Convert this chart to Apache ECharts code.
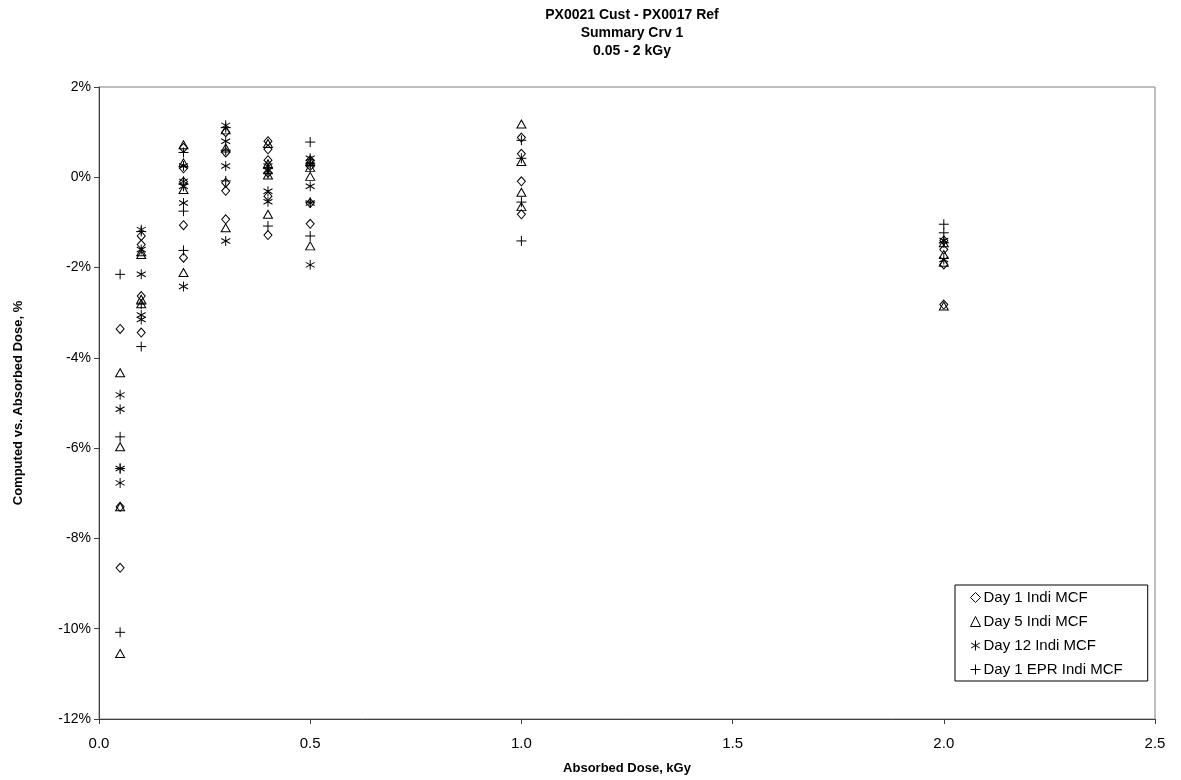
<!DOCTYPE html>
<html>
<head>
<meta charset="utf-8">
<script src="https://cdn.jsdelivr.net/npm/echarts@6/dist/echarts.min.js"></script>
<style>
html,body{margin:0;padding:0;background:#fff;}
#chart{width:1181px;height:780px;}
</style>
</head>
<body>
<div id="chart"></div>
<script>
// ---- data (dose kGy, deviation %) ----
const seriesNames = ['Day 1 Indi MCF', 'Day 5 Indi MCF', 'Day 12 Indi MCF', 'Day 1 EPR Indi MCF'];
const xTicks = [0, 0.5, 1.0, 1.5, 2.0, 2.5];
const yTicks = [-12, -10, -8, -6, -4, -2, 0, 2];

const day1Indi = [
  [0.05,-3.36],[0.05,-7.30],[0.05,-8.65],
  [0.1,-1.30],[0.1,-1.49],[0.1,-2.63],[0.1,-3.44],
  [0.2,0.65],[0.2,0.20],[0.2,-0.10],[0.2,-1.06],[0.2,-1.78],
  [0.3,1.00],[0.3,0.55],[0.3,-0.12],[0.3,-0.30],[0.3,-0.93],
  [0.4,0.80],[0.4,0.62],[0.4,0.38],[0.4,0.10],[0.4,-0.42],[0.4,-1.28],
  [0.5,0.38],[0.5,0.25],[0.5,-0.57],[0.5,-1.03],
  [1.0,0.88],[1.0,0.52],[1.0,-0.09],[1.0,-0.82],
  [2.0,-1.40],[2.0,-1.60],[2.0,-1.93],[2.0,-2.82]
];
const day5Indi = [
  [0.05,-4.33],[0.05,-5.97],[0.05,-7.30],[0.05,-10.55],
  [0.1,-1.65],[0.1,-1.71],[0.1,-2.70],[0.1,-2.80],
  [0.2,0.72],[0.2,0.32],[0.2,-0.27],[0.2,-2.11],
  [0.3,1.05],[0.3,0.65],[0.3,-1.12],
  [0.4,0.75],[0.4,0.30],[0.4,0.05],[0.4,-0.82],
  [0.5,0.35],[0.5,0.22],[0.5,0.02],[0.5,-1.52],
  [1.0,1.18],[1.0,0.35],[1.0,-0.33],[1.0,-0.65],
  [2.0,-1.45],[2.0,-1.71],[2.0,-1.88],[2.0,-2.85]
];
const day12Indi = [
  [0.05,-4.82],[0.05,-5.14],[0.05,-6.45],[0.05,-6.77],
  [0.1,-1.16],[0.1,-1.60],[0.1,-2.15],[0.1,-3.05],[0.1,-3.15],
  [0.2,0.25],[0.2,-0.09],[0.2,-0.20],[0.2,-0.57],[0.2,-2.42],
  [0.3,1.15],[0.3,0.80],[0.3,0.25],[0.3,-1.41],
  [0.4,0.25],[0.4,0.15],[0.4,-0.31],[0.4,-0.54],
  [0.5,0.42],[0.5,0.28],[0.5,-0.20],[0.5,-0.57],[0.5,-1.94],
  [2.0,-1.40],[2.0,-1.82]
];
const day1EprIndi = [
  [0.05,-2.15],[0.05,-5.75],[0.05,-6.45],[0.05,-10.08],
  [0.1,-1.20],[0.1,-2.81],[0.1,-3.75],
  [0.2,0.55],[0.2,-0.15],[0.2,-0.75],[0.2,-1.62],
  [0.3,1.10],[0.3,0.60],[0.3,-0.08],
  [0.4,0.20],[0.4,0.08],[0.4,-1.08],
  [0.5,0.78],[0.5,0.30],[0.5,-0.55],[0.5,-1.30],
  [1.0,0.82],[1.0,0.42],[1.0,-0.55],[1.0,-1.41],
  [2.0,-1.04],[2.0,-1.23],[2.0,-1.45]
];

// ---- chart ----
const FONT = 'Liberation Sans, Arial, sans-serif';
const plusPath = 'path://M5,0L5,10M0,5L10,5';
const starPath = 'path://M5,0L5,10M0.67,2.5L9.33,7.5M0.67,7.5L9.33,2.5';
const symbols = ['diamond', 'triangle', starPath, plusPath];
const sizes = [[8,9], [9,8], [9,10], [10,10]];
const datasets = [day1Indi, day5Indi, day12Indi, day1EprIndi];

const chart = echarts.init(document.getElementById('chart'), null, {renderer: 'canvas'});
const option = {
  animation: false,
  backgroundColor: '#ffffff',
  title: {
    text: 'PX0021 Cust - PX0017 Ref\nSummary Crv 1\n0.05 - 2 kGy',
    left: 627,
    top: 1,
    textAlign: 'center',
    textStyle: {fontFamily: FONT, fontSize: 14, fontWeight: 'bold', color: '#000', lineHeight: 18}
  },
  grid: {left: 99, right: 26, top: 87, bottom: 60, show: true, borderColor: '#808080', borderWidth: 1, backgroundColor: 'transparent'},
  legend: {
    orient: 'vertical',
    left: 955,
    top: 585,
    itemWidth: 10,
    itemHeight: 10,
    itemGap: 9,
    padding: [5, 25, 4, 13],
    borderColor: '#000',
    borderWidth: 1,
    backgroundColor: '#fff',
    itemStyle: {color: 'none', borderColor: '#000', borderWidth: 1},
    textStyle: {fontFamily: FONT, fontSize: 15, color: '#000', padding: [0,0,0,-2]},
    data: seriesNames
  },
  xAxis: {
    type: 'value', min: 0, max: 2.5, interval: 0.5,
    name: 'Absorbed Dose, kGy', nameLocation: 'middle', nameGap: 43,
    nameTextStyle: {fontFamily: FONT, fontSize: 13, fontWeight: 'bold', color: '#000'},
    axisLine: {show: true, onZero: false, lineStyle: {color: '#404040', width: 1}},
    axisTick: {show: true, inside: false, length: 5, lineStyle: {color: '#404040'}},
    axisLabel: {fontFamily: FONT, fontSize: 15, color: '#000', margin: 17, formatter: v => v.toFixed(1)},
    splitLine: {show: false}
  },
  yAxis: {
    type: 'value', min: -12, max: 2, interval: 2,
    name: 'Computed vs. Absorbed Dose, %', nameLocation: 'middle', nameGap: 74, nameRotate: 90,
    nameTextStyle: {fontFamily: FONT, fontSize: 13, fontWeight: 'bold', color: '#000'},
    axisLine: {show: true, onZero: false, lineStyle: {color: '#404040', width: 1}},
    axisTick: {show: true, inside: false, length: 5, lineStyle: {color: '#404040'}},
    axisLabel: {fontFamily: FONT, fontSize: 14, color: '#000', margin: 8, formatter: v => v + '%'},
    splitLine: {show: false}
  },
  series: datasets.map((d, i) => ({
    name: seriesNames[i],
    type: 'scatter',
    data: d,
    symbol: symbols[i],
    symbolSize: sizes[i],
    itemStyle: {color: 'none', borderColor: '#000', borderWidth: 1, opacity: 1},
    emphasis: {disabled: true}
  }))
};
chart.setOption(option);
</script>
</body>
</html>
